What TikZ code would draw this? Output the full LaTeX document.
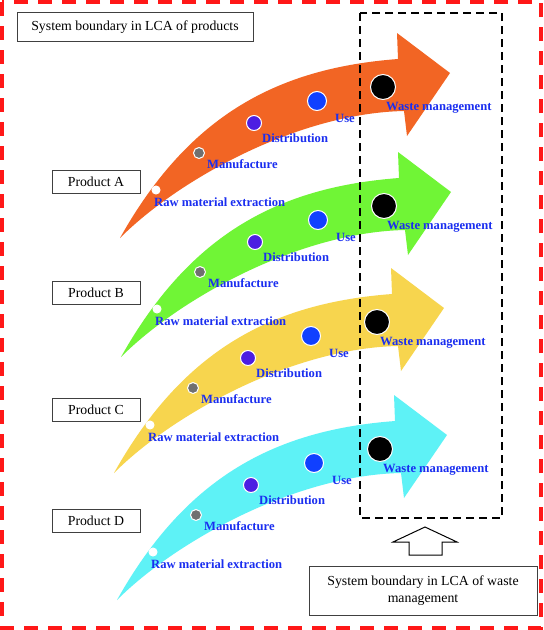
\documentclass[tikz,border=0pt]{standalone}
\usepackage{fontspec}
\setmainfont{Liberation Serif}
\definecolor{cOrange}{RGB}{242,101,36}
\definecolor{cGreen}{RGB}{112,245,54}
\definecolor{cYellow}{RGB}{247,213,78}
\definecolor{cCyan}{RGB}{94,242,246}
\definecolor{cGray}{RGB}{112,112,112}
\definecolor{cPurple}{RGB}{76,30,226}
\definecolor{cBlue}{RGB}{16,64,255}
\definecolor{cLabel}{RGB}{26,46,240}
\definecolor{cRed}{RGB}{255,24,24}
\pgfdeclarelayer{bands}
\pgfsetlayers{bands,main}
\begin{document}
\begin{tikzpicture}[x=1pt,y=-1pt,
  dot/.style={circle,draw=white,line width=1pt,inner sep=0pt,minimum size=#1},
  stage/.style={anchor=base west,inner sep=0pt,text=cLabel,font=\fontsize{12.6}{14}\selectfont\bfseries},
  plainbox/.style={draw=black!75,line width=0.8pt,fill=white,inner sep=0pt,align=center,font=\fontsize{13.8}{17}\selectfont},
  pics/lcaarrow/.style={code={
    \begin{pgfonlayer}{bands}
    \fill[#1] (0,0) .. controls (70,-125) and (160,-170) .. (278,-179)
       -- (277,-205) -- (330,-165) -- (287,-102) -- (284,-127)
       .. controls (180,-125) and (60,-60) .. (0,0) -- cycle;
    \end{pgfonlayer}
    \node[dot=8pt,fill=white]   (-raw)   at (36,-48) {};
    \node[dot=11pt,fill=cGray]  (-manu)  at (79,-85) {};
    \node[dot=15pt,fill=cPurple] (-dist) at (134,-115) {};
    \node[dot=19pt,fill=cBlue]  (-use)   at (197,-137) {};
    \node[dot=25pt,fill=black]  (-waste) at (263,-151) {};
    \node[stage] (-rawl)   at (34,-32)  {Raw material extraction};
    \node[stage] (-manul)  at (87,-70)  {Manufacture};
    \node[stage] (-distl)  at (142,-96) {Distribution};
    \node[stage] (-usel)   at (215,-116) {Use};
    \node[stage] (-wastel) at (266,-128) {Waste management};
  }}]
\begin{pgfonlayer}{bands}
\fill[white] (0,0) rectangle (544,630);
\end{pgfonlayer}
\useasboundingbox (0,0) rectangle (544,630);

% arrows
\pic (A) at (120,238) {lcaarrow=cOrange};
\pic (B) at (121,357) {lcaarrow=cGreen};
\pic (C) at (114,473) {lcaarrow=cYellow};
\pic (D) at (117,600) {lcaarrow=cCyan};

% product labels
\node[plainbox,minimum width=88pt,minimum height=23pt] (pA) at (96,181.5) {Product A};
\node[plainbox,minimum width=88pt,minimum height=23pt] (pB) at (96,292.5) {Product B};
\node[plainbox,minimum width=88pt,minimum height=23pt] (pC) at (96,409.5) {Product C};
\node[plainbox,minimum width=88pt,minimum height=23pt] (pD) at (96,521) {Product D};

% top label
\node[plainbox,minimum width=236pt,minimum height=29pt] (prodlca) at (135,27) {System boundary in LCA of products};

% waste-management boundary
\draw[black,line width=2pt,dash pattern=on 8pt off 5pt] (360,13) rectangle (502,518);
\node[plainbox,minimum width=228pt,minimum height=49pt] (wastelca) at (423,590.5) {System boundary in LCA of waste\\management};
\draw[black,line width=1pt,fill=white,line join=miter]
  (425,527) -- (457,542) -- (442,542) -- (442,555) -- (409,555) -- (409,542) -- (393,542) -- cycle;

% outer red boundary
\draw[cRed,line width=4pt,dash pattern=on 14pt off 10pt] (2,2) rectangle (541,628);
\end{tikzpicture}
\end{document}
